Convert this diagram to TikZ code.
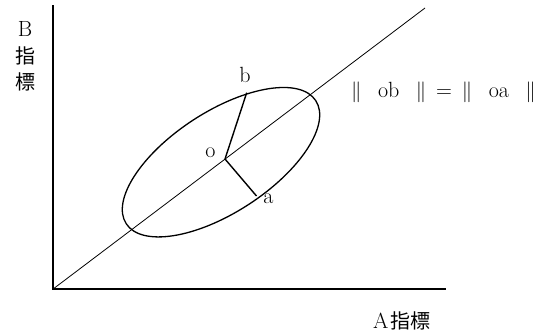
\documentclass[tikz,border=0pt]{standalone}
\usepackage{fontspec}
\newfontfamily\cjk{Noto Sans CJK JP}
\begin{document}
\begin{tikzpicture}[x=1pt,y=-1pt,
  lbl/.style={inner sep=0pt,font=\fontsize{22}{24}\selectfont},
  cjklbl/.style={inner sep=0pt,font=\fontsize{20}{22}\selectfont\cjk}]
\useasboundingbox (0,0) rectangle (546,333);
\coordinate (O) at (52.7,289.3);
\coordinate (Yt) at (52.7,5);
\coordinate (Xe) at (446,289.3);
\coordinate (De) at (425,8);
\coordinate (C) at (221,162.2);
\coordinate (o) at (225,159);
\coordinate (b) at (246.7,92.7);
\coordinate (a) at (256.5,196);
% axes
\draw[line width=1.8pt,line cap=butt] (Yt) -- (O) -- (Xe);
\draw[line width=0.8pt] (O) -- (De);
% ellipse
\draw[line width=1.3pt,rotate around={33:(C)}] (C) ellipse [x radius=113, y radius=50.5];
% radii
\draw[line width=1.4pt] (b) -- (o) -- (a);
% labels
\node[lbl] (lb) at (245,75) {b};
\node[lbl] (lo) at (210.5,153) {o};
\node[lbl] (la) at (268.5,199) {a};
\node[lbl] (eq) at (443.5,92) {$\|$\hspace{0.75em}ob\hspace{0.75em}$\|$\hspace{0.45em}=\hspace{0.45em}$\|$\hspace{0.75em}oa\hspace{0.75em}$\|$};
\node[lbl] (B) at (25,29) {B};
\node[cjklbl] (B1) at (25,56) {指};
\node[cjklbl] (B2) at (25,82) {標};
\node[lbl,anchor=west] (A) at (373,321) {A\hspace{0.1em}{\fontsize{20}{22}\selectfont\cjk 指標}};
\end{tikzpicture}
\end{document}
